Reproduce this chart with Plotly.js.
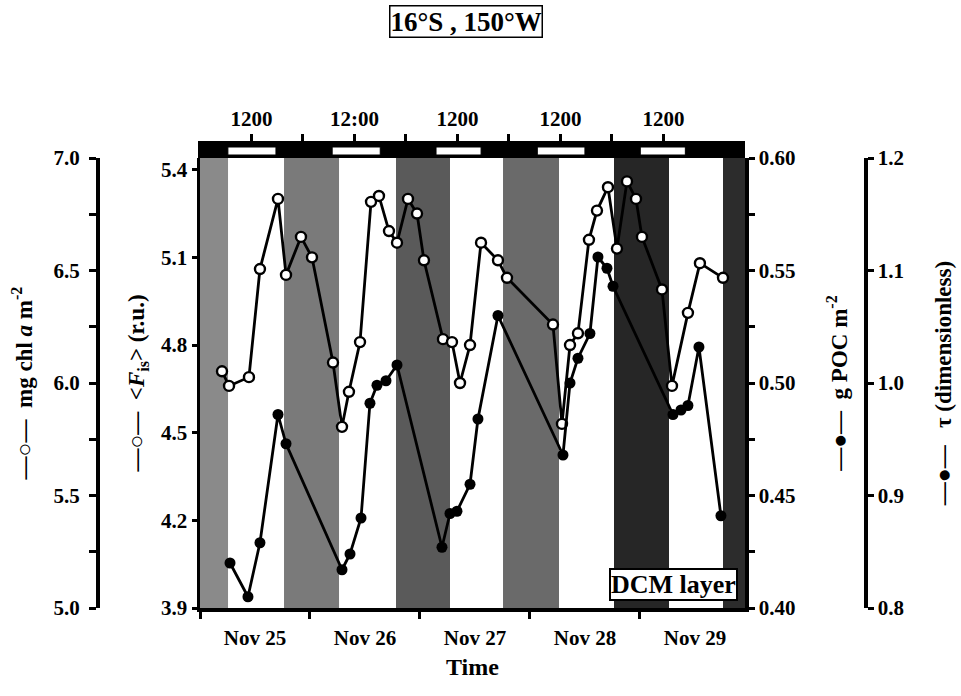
<!DOCTYPE html>
<html><head><meta charset="utf-8">
<script src="https://cdn.plot.ly/plotly-3.0.1.min.js"></script>
<style>body{margin:0;background:#fff}#chart{width:961px;height:696px}</style>
</head><body><div id="chart"></div>
<script>
// ---- data ----
const fisTimes = ['2000-11-25 04:48','2000-11-25 06:20','2000-11-25 10:41','2000-11-25 13:05','2000-11-25 17:01','2000-11-25 18:46','2000-11-25 22:02',
  '2000-11-26 00:26','2000-11-26 05:01','2000-11-26 06:59','2000-11-26 08:30','2000-11-26 10:55','2000-11-26 13:19','2000-11-26 15:03','2000-11-26 17:14','2000-11-26 18:59','2000-11-26 21:23','2000-11-26 23:21',
  '2000-11-27 00:52','2000-11-27 05:01','2000-11-27 06:59','2000-11-27 08:44','2000-11-27 10:55','2000-11-27 13:19','2000-11-27 17:01','2000-11-27 18:59',
  '2000-11-28 05:01','2000-11-28 06:59','2000-11-28 08:44','2000-11-28 10:28','2000-11-28 12:52','2000-11-28 14:37','2000-11-28 17:01','2000-11-28 18:59','2000-11-28 21:10','2000-11-28 23:08',
  '2000-11-29 00:26','2000-11-29 04:48','2000-11-29 06:59','2000-11-29 10:28','2000-11-29 13:05','2000-11-29 18:07'];
const fisValues = [4.71,4.66,4.69,5.06,5.30,5.04,5.17,
  5.10,4.74,4.52,4.64,4.81,5.29,5.31,5.19,5.15,5.30,5.25,
  5.09,4.82,4.81,4.67,4.80,5.15,5.09,5.03,
  4.87,4.53,4.80,4.84,5.16,5.26,5.34,5.13,5.36,5.30,
  5.17,4.99,4.66,4.91,5.08,5.03];

const pocTimes = ['2000-11-25 06:33','2000-11-25 10:28','2000-11-25 13:05','2000-11-25 17:01','2000-11-25 18:46',
  '2000-11-26 06:59','2000-11-26 08:44','2000-11-26 11:08','2000-11-26 13:05','2000-11-26 14:37','2000-11-26 16:35','2000-11-26 18:59',
  '2000-11-27 04:48','2000-11-27 06:33','2000-11-27 08:04','2000-11-27 10:55','2000-11-27 12:39','2000-11-27 17:01',
  '2000-11-28 07:12','2000-11-28 08:44','2000-11-28 10:28','2000-11-28 13:05','2000-11-28 14:50','2000-11-28 16:48','2000-11-28 18:07',
  '2000-11-29 07:12','2000-11-29 08:57','2000-11-29 10:28','2000-11-29 12:52','2000-11-29 17:40'];
const pocValues = [0.420,0.405,0.429,0.486,0.473,
  0.417,0.424,0.440,0.491,0.499,0.501,0.508,
  0.427,0.442,0.443,0.455,0.484,0.530,
  0.468,0.500,0.511,0.522,0.556,0.551,0.543,
  0.486,0.488,0.490,0.516,0.441];

const nightStart = ['2000-11-24 18:15','2000-11-25 18:20','2000-11-26 18:46','2000-11-27 18:07','2000-11-28 18:20','2000-11-29 18:07'];
const nightEnd   = ['2000-11-25 06:07','2000-11-26 06:20','2000-11-27 06:33','2000-11-28 06:20','2000-11-29 06:20','2000-11-30 06:00'];
const nightShade = ['#8a8a8a','#7a7a7a','#5a5a5a','#6a6a6a','#262626','#2c2c2c'];

// top local-time axis (hours)
const dayStartH = [6.5, 30.8, 55.0, 78.6, 102.6];
const dayEndH   = [17.7, 42.0, 65.5, 89.7, 113.1];
const noonTickH = [12, 36, 60, 84, 108];
const noonTickText = ['1200','12:00','1200','1200','1200'];
const midnightTickH = [24, 48, 72, 96];

// ---- layout constants ----
const W = 961, H = 696, T = 142, B = 88;
const PH = H - T - B;
const plotTop = 158, plotBottom = 608;
const yDomTop = (plotBottom - plotTop) / PH;
const xDom = [200 / W, 745 / W];
const py = p => (plotBottom - p) / PH;

const FONT = 'Liberation Serif, Times New Roman, serif';
const tickFont = {family: FONT, size: 21, color: '#000', weight: 'bold'};
const titleFont = {family: FONT, size: 23, color: '#000', weight: 'bold'};

const shapes = [];
nightStart.forEach((s, i) => shapes.push({
  type: 'rect', xref: 'x', yref: 'paper', x0: s, x1: nightEnd[i], y0: 0, y1: yDomTop,
  fillcolor: nightShade[i], line: {width: 0}, layer: 'below'
}));
shapes.push({type: 'rect', xref: 'paper', yref: 'paper', x0: 198 / W, x1: xDom[1], y0: yDomTop, y1: py(141),
  fillcolor: '#000', line: {width: 0}});
dayStartH.forEach((s, i) => shapes.push({
  type: 'rect', xref: 'x2', yref: 'paper', x0: s, x1: dayEndH[i], y0: py(155), y1: py(147),
  fillcolor: '#fff', line: {color: '#000', width: 1}
}));

const traces = [
  {x: fisTimes, y: fisValues, xaxis: 'x', yaxis: 'y', mode: 'lines+markers', name: '<Fis>',
   line: {color: '#000', width: 2.8}, marker: {symbol: 'circle', size: 10, color: '#fff', line: {color: '#000', width: 2.4}}},
  {x: pocTimes, y: pocValues, xaxis: 'x', yaxis: 'y2', mode: 'lines+markers', name: 'g POC m-2',
   line: {color: '#000', width: 2.8}, marker: {symbol: 'circle', size: 11, color: '#000'}},
  {x: [], y: [], xaxis: 'x2', yaxis: 'y', showlegend: false, hoverinfo: 'skip'},
  {x: [], y: [], xaxis: 'x', yaxis: 'y3', showlegend: false, hoverinfo: 'skip'},
  {x: [], y: [], xaxis: 'x', yaxis: 'y4', showlegend: false, hoverinfo: 'skip'}
];

const axLine = {showline: true, linewidth: 3.5, linecolor: '#000', showgrid: false, zeroline: false,
  ticks: 'outside', tickwidth: 3, tickcolor: '#000', tickfont: tickFont};

const layout = {
  width: W, height: H, margin: {l: 0, r: 0, t: T, b: B, pad: 0},
  paper_bgcolor: '#fff', plot_bgcolor: '#fff', showlegend: false,
  font: {family: FONT, color: '#000'},
  xaxis: Object.assign({}, axLine, {type: 'date', domain: xDom, range: ['2000-11-25 00:00', '2000-11-29 22:55'], anchor: 'y',
    tick0: '2000-11-25', dtick: 86400000, ticklabelmode: 'period', tickformat: '%b %d', ticklen: 7,
    ticklabelstandoff: 1,
    title: {text: 'Time', font: {family: FONT, size: 24, weight: 'bold', color: '#000'}, standoff: 10}}),
  xaxis2: {overlaying: 'x', side: 'top', anchor: 'free', position: 1, range: [0, 127],
    tickmode: 'array', tickvals: noonTickH, ticktext: noonTickText, ticks: 'outside', ticklen: 8, tickwidth: 3, tickcolor: '#000',
    minor: {tickmode: 'array', tickvals: midnightTickH, ticks: 'outside', ticklen: 8, tickwidth: 3, tickcolor: '#000'},
    showline: false, showgrid: false, zeroline: false, tickfont: tickFont},
  yaxis: Object.assign({}, axLine, {domain: [0, yDomTop], range: [3.9, 5.44], anchor: 'x', side: 'left',
    tick0: 3.9, dtick: 0.3, tickformat: '.1f', ticklen: 5,
    title: {text: '—○—  &lt;<i>F</i><sub>is</sub>&gt; (r.u.)', font: titleFont, standoff: 11}}),
  yaxis2: Object.assign({}, axLine, {overlaying: 'y', range: [0.40, 0.60], anchor: 'x', side: 'right',
    tick0: 0.40, dtick: 0.05, tickformat: '.2f', ticklen: 6,
    minor: {tick0: 0.40, dtick: 0.025, ticks: 'outside', ticklen: 6, tickwidth: 3, tickcolor: '#000'},
    title: {text: '—●—  g POC m<sup>-2</sup>', font: titleFont, standoff: 37}}),
  yaxis3: Object.assign({}, axLine, {overlaying: 'y', range: [5.0, 7.0], anchor: 'free', position: 97 / W, side: 'left',
    tick0: 5.0, dtick: 0.5, tickformat: '.1f', ticklen: 7, ticklabelstandoff: 5,
    minor: {tick0: 5.0, dtick: 0.25, ticks: 'outside', ticklen: 7, tickwidth: 3, tickcolor: '#000'},
    title: {text: '—○—  mg chl <i>a</i> m<sup>-2</sup>', font: titleFont, standoff: 13}}),
  yaxis4: Object.assign({}, axLine, {overlaying: 'y', range: [0.8, 1.2], anchor: 'free', position: 865 / W, side: 'right',
    tick0: 0.8, dtick: 0.1, tickformat: '.1f', ticklen: 6,
    title: {text: '—●—   τ (dimensionless)', font: titleFont, standoff: 32}}),
  shapes: shapes,
  annotations: [
    {text: '16°S , 150°W', xref: 'paper', yref: 'paper', x: 465.5 / W, y: py(22), xanchor: 'center', yanchor: 'middle',
     showarrow: false, font: {family: FONT, size: 27, weight: 'bold', color: '#000'},
     bordercolor: '#000', borderwidth: 1.5, borderpad: 0, bgcolor: '#fff'},
    {text: 'DCM layer', xref: 'paper', yref: 'paper', x: 738 / W, y: py(601), xanchor: 'right', yanchor: 'bottom',
     showarrow: false, font: {family: FONT, size: 26, weight: 'bold', color: '#000'},
     bordercolor: '#000', borderwidth: 2, borderpad: 0, bgcolor: '#fff'}
  ]
};

Plotly.newPlot('chart', traces, layout, {staticPlot: true, displayModeBar: false});
</script>
</body></html>
